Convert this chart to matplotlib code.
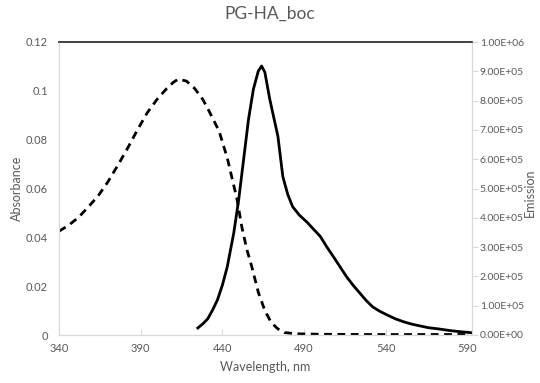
import matplotlib
matplotlib.use("Agg")
import matplotlib.pyplot as plt
from matplotlib.ticker import FuncFormatter, MultipleLocator

plt.rcParams['font.family'] = ['Lato', 'DejaVu Sans']

title = "PG-HA_boc"
x_label = "Wavelength, nm"
y_left_label = "Absorbance"
y_right_label = "Emission"

abs_wl = [340, 346, 352, 358, 364, 370, 376, 382, 388, 394, 400, 406, 410, 413,
          418, 423, 428, 432, 438, 443, 446, 449, 452, 455, 458, 462, 466, 470,
          474, 478, 485, 500, 530, 560, 592]
abs_val = [0.0425, 0.0450, 0.0482, 0.0525, 0.0570, 0.0628, 0.0695, 0.0765, 0.0840,
           0.0910, 0.0965, 0.1010, 0.1035, 0.1048, 0.1040, 0.1010, 0.0965, 0.0915,
           0.0835, 0.0725, 0.0640, 0.0555, 0.0440, 0.0350, 0.0280, 0.0175, 0.0100,
           0.0050, 0.0025, 0.0010, 0.0005, 0.0003, 0.0002, 0.0002, 0.0002]

em_wl = [425, 428, 431, 434, 437, 440, 443, 447, 450, 453, 456, 459, 462, 464,
         466, 469, 474, 477, 480, 483, 487, 492, 496, 500, 504, 508, 512, 516,
         520, 524, 528, 532, 536, 541, 546, 551, 556, 561, 566, 572, 577, 581,
         586, 592]
em_val = [24000, 38000, 55000, 85000, 120000, 170000, 233000, 349000, 462000,
          599000, 736000, 839000, 901000, 918000, 897000, 805000, 678000, 541000,
          480000, 438000, 410000, 384000, 360000, 336000, 300000, 267000, 233000,
          199000, 170000, 144000, 118000, 96000, 82000, 68000, 55000, 45000,
          37000, 31000, 25000, 21000, 17000, 14000, 11000, 8000]

x_ticks = [340, 390, 440, 490, 540, 590]

gray_txt = "#595959"
axis_gray = "#d9d9d9"

fig = plt.figure(figsize=(5.4, 3.83), dpi=100)
ax = fig.add_axes([59/540, 1-335/383, (471.5-59)/540, (335-42)/383])
ax2 = ax.twinx()

ax.plot(abs_wl, abs_val, color="black", lw=2, dashes=(2.8, 2.0))
ax2.plot(em_wl, em_val, color="black", lw=2)

ax.set_xlim(340, 592.5)
ax.set_ylim(0, 0.12)
ax2.set_ylim(0, 1.0e6)

ax.set_xticks(x_ticks)
ax.set_yticks([0, 0.02, 0.04, 0.06, 0.08, 0.1, 0.12])
ax.yaxis.set_major_formatter(FuncFormatter(lambda v, p: "0" if v == 0 else f"{v:g}"))
ax2.yaxis.set_major_locator(MultipleLocator(1e5))
ax2.yaxis.set_major_formatter(FuncFormatter(lambda v, p: f"{v:.2E}"))

for a in (ax, ax2):
    for s in a.spines.values():
        s.set_color(axis_gray)
    a.spines['top'].set_color("#404040")
    a.spines['top'].set_linewidth(1.2)

ax.tick_params(axis='x', direction='in', length=4, color=axis_gray, labelsize=8,
               labelcolor=gray_txt, pad=6)
ax.tick_params(axis='y', length=0, labelsize=8, labelcolor=gray_txt, pad=8)
ax2.tick_params(axis='y', direction='out', length=4, color=axis_gray, labelsize=7.5,
                labelcolor=gray_txt, pad=2)

ax.set_xlabel(x_label, fontsize=9, color=gray_txt, labelpad=5)
ax.set_ylabel(y_left_label, fontsize=9, color=gray_txt, labelpad=2)
fig.text(524/540, 190/383, y_right_label, rotation=90, ha='left', va='center',
         fontsize=9, color=gray_txt)
fig.text(270/540, 1-14/383, title, ha='center', va='center', fontsize=12.5,
         color=gray_txt)

fig.savefig("out.png", dpi=100)
